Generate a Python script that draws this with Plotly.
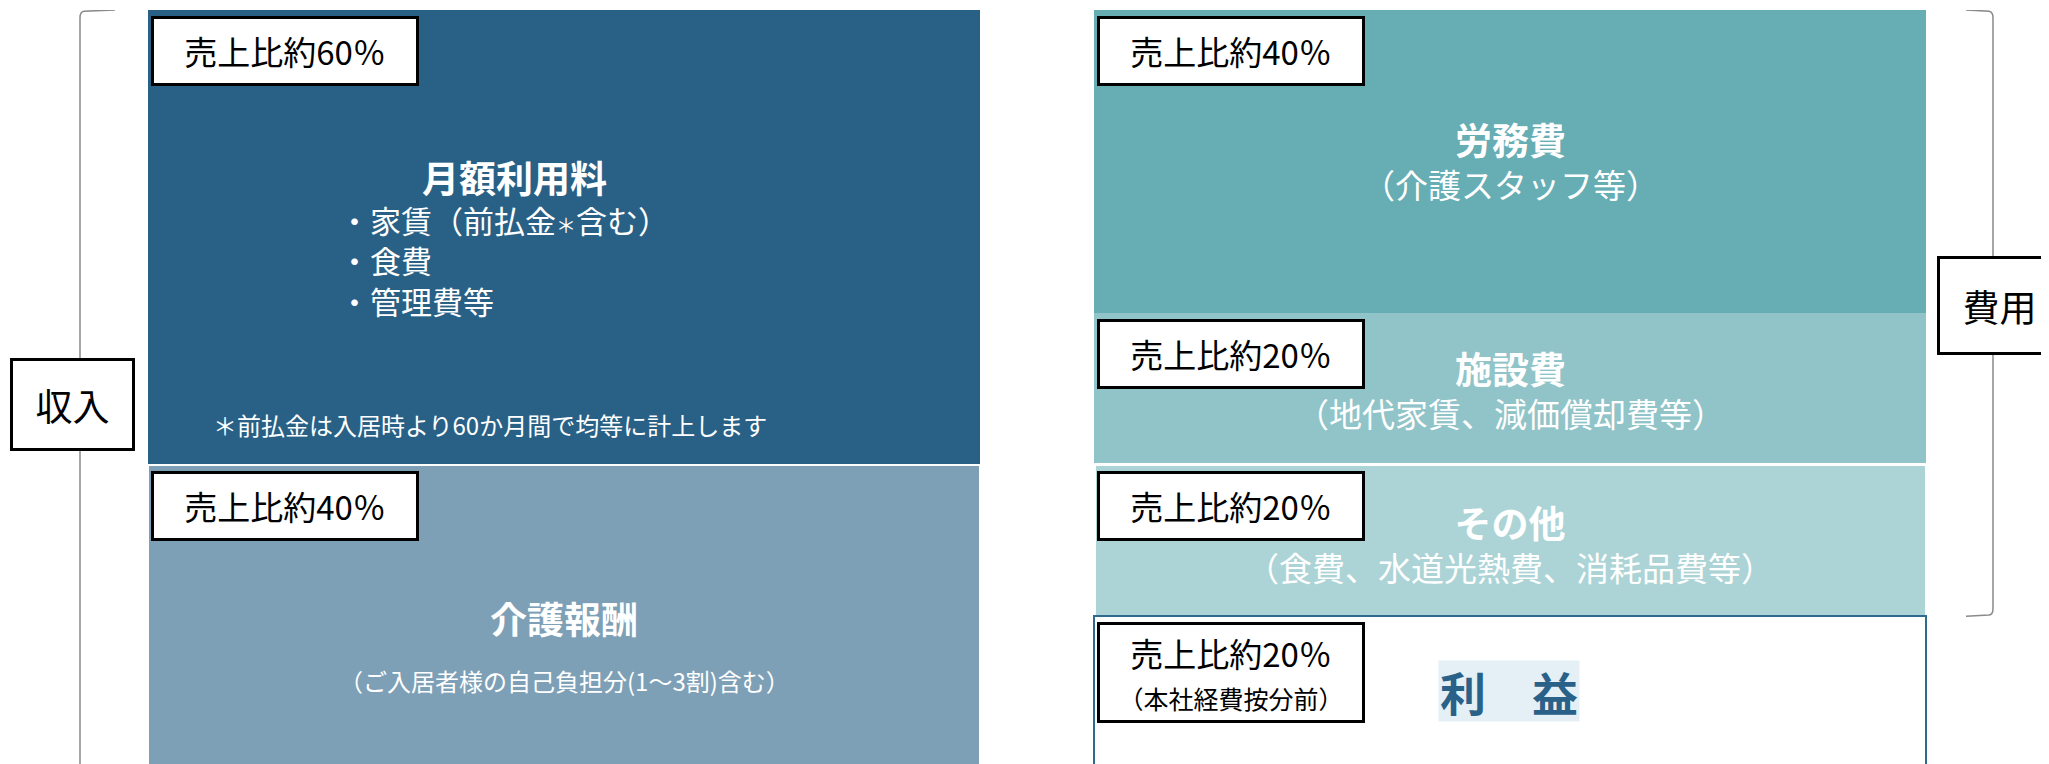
import plotly.graph_objects as go

# ---------------- data ----------------
columns = ["収入", "費用"]

revenue_items = ["月額利用料", "介護報酬"]
revenue_share = [60, 40]
revenue_colors = ["#296186", "#7ea0b6"]

cost_items = ["労務費", "施設費", "その他", "利益"]
cost_share = [40, 20, 20, 20]
cost_colors = ["#66adb4", "#90c4c8", "#acd4d6", "#ffffff"]
cost_notes = ["（介護スタッフ等）", "（地代家賃、減価償却費等）", "（食費、水道光熱費、消耗品費等）", ""]

monthly_fee_items = ["家賃（前払金<span style='font-size:20px'>＊</span>含む）", "食費", "管理費等"]
monthly_fee_note = "＊前払金は入居時より60か月間で均等に計上します"
care_note = "（ご入居者様の自己負担分(1～3割)含む）"
profit_note = "（本社経費按分前）"

# ---------------- layout geometry ----------------
OFF = 8                      # page body margin
W, H = 2049 - OFF, 764 - OFF
ML, MR, MT, MB = 91 - OFF, 66, 10 - OFF, 0
PW, PH = W - ML - MR, H - MT - MB
Y_MAX = 99.5
FONT = "Noto Sans CJK JP, Noto Sans, sans-serif"


def px(x):
    return (x - OFF - ML) / PW


def py(y):
    return 1 - (y - OFF - MT) / PH


def ypix(v):
    return OFF + MT + v * PH / Y_MAX


fig = go.Figure()

# revenue stack
for i, (name, v, c) in enumerate(zip(revenue_items, revenue_share, revenue_colors)):
    fig.add_trace(go.Bar(
        x=[columns[0]], y=[v], name=name,
        marker=dict(color=c, line=dict(color="white", width=2 if i > 0 else 0)),
        hovertemplate=name + ": 約%{y}%<extra></extra>",
    ))

# cost stack
line_cfg = [dict(width=0), dict(width=0), dict(color="white", width=3),
            dict(color="#2e6a8e", width=1.5)]
for name, v, c, lc in zip(cost_items, cost_share, cost_colors, line_cfg):
    fig.add_trace(go.Bar(
        x=[columns[1]], y=[v], name=name,
        marker=dict(color=c, line=lc),
        hovertemplate=name + ": 約%{y}%<extra></extra>",
    ))

ann = []


def box(x, y_top, text, h=64, w=262, size=33):
    ann.append(dict(
        xref="paper", yref="paper", x=px(x), y=py(y_top),
        xanchor="left", yanchor="top", text=text, showarrow=False,
        width=w, height=h, align="center", valign="middle",
        bgcolor="white", bordercolor="black", borderwidth=3, borderpad=0,
        font=dict(family=FONT, size=size, color="black"),
    ))


def txt(x, y, text, size, bold=False, color="white", anchor="center", align="center"):
    ann.append(dict(
        xref="paper", yref="paper", x=px(x), y=py(y),
        xanchor=anchor, yanchor="middle", showarrow=False, align=align,
        text=("<b>%s</b>" % text) if bold else text,
        font=dict(family=FONT, size=size, color=color),
    ))


# revenue labels
start = 0
for i, v in enumerate(revenue_share):
    box(151, ypix(start) + 6, "売上比約%d％" % v)
    start += v

txt(514, 177, revenue_items[0], 37, bold=True)
txt(337, 260, "<br>".join("・" + it for it in monthly_fee_items), 31, anchor="left", align="left")
txt(211, 424, monthly_fee_note, 24, anchor="left")
txt(564, 618, revenue_items[1], 37, bold=True)
txt(564, 680, care_note, 24)

# cost labels
start = 0
block_y = [160, 389, 543]
for i, v in enumerate(cost_share):
    top = ypix(start) + 6
    if i < 3:
        box(1097, top, "売上比約%d％" % v)
        txt(1510, block_y[i],
            "<span style='font-size:37px'><b>%s</b></span><br>%s" % (cost_items[i], cost_notes[i]), 33)
    else:
        box(1097, top, "売上比約%d％<br><span style='font-size:25px'>%s</span>" % (v, profit_note), h=95)
    start += v

# profit label
ann.append(dict(
    xref="paper", yref="paper", x=px(1509), y=py(691),
    xanchor="center", yanchor="middle", showarrow=False,
    text="<b>利　益</b>", width=140, height=60, borderpad=0,
    bgcolor="#e4eff6", font=dict(family=FONT, size=46, color="#2a6188"),
))

# category boxes
ann.append(dict(
    xref="paper", yref="paper", x=px(10), y=py(358), xanchor="left", yanchor="top",
    text=columns[0], showarrow=False, width=119, height=87,
    bgcolor="white", bordercolor="black", borderwidth=3, borderpad=0,
    font=dict(family=FONT, size=37, color="black"),
))
ann.append(dict(
    xref="paper", yref="paper", x=px(1937), y=py(256), xanchor="left", yanchor="top",
    text=columns[1], showarrow=False, width=119, height=93,
    bgcolor="white", bordercolor="black", borderwidth=3, borderpad=0,
    font=dict(family=FONT, size=37, color="black"),
))

# brackets
total_rev = sum(revenue_share)
total_cost = sum(cost_share[:-1])
lx, hx = px(80), px(115)
bl = ("M %f,0 L %f,0.15 Q %f,0.25 %f,1 L %f,%f"
      % (hx, px(84), lx, lx, lx, total_rev + 5))
rx, rhx = px(1993), px(1966)
br = ("M %f,0 L %f,0.15 Q %f,0.25 %f,1 L %f,%f Q %f,%f %f,%f L %f,%f"
      % (rhx, px(1989), rx, rx, rx, total_cost - 1, rx, total_cost - 0.25,
         px(1989), total_cost - 0.15, rhx, total_cost))
shapes = [
    dict(type="path", xref="paper", yref="y", path=bl, line=dict(color="#8a8a8a", width=1.5)),
    dict(type="path", xref="paper", yref="y", path=br, line=dict(color="#8a8a8a", width=1.5)),
]

fig.update_layout(
    width=W, height=H,
    margin=dict(l=ML, r=MR, t=MT, b=MB, pad=0),
    barmode="stack", bargap=0.1205,
    showlegend=False,
    plot_bgcolor="white", paper_bgcolor="white",
    xaxis=dict(visible=False, type="category", range=[-0.5, 1.5]),
    yaxis=dict(visible=False, range=[Y_MAX, 0]),
    annotations=ann, shapes=shapes,
)

fig.write_html("out.html", config={"displayModeBar": False})
